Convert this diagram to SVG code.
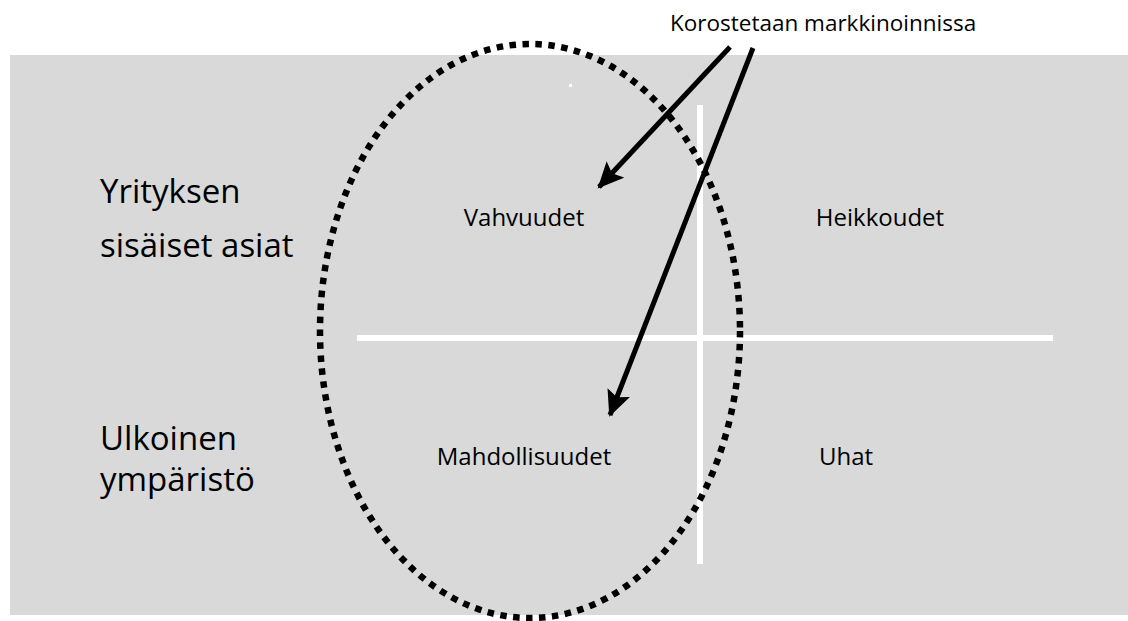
<svg xmlns="http://www.w3.org/2000/svg" width="1128" height="621" viewBox="0 0 1128 621">
  <style>
    .lbl { font-family: "Open Sans", "Liberation Sans", sans-serif; font-size: 24px; fill: #000; }
    .note { font-family: "Open Sans", "Liberation Sans", sans-serif; font-size: 22.5px; fill: #000; }
    .side { font-family: "Open Sans", "Liberation Sans", sans-serif; font-size: 33px; fill: #000; }
    .axis { fill: #ffffff; }
    .arrow { stroke: #000; stroke-width: 5; fill: none; marker-end: url(#head); }
  </style>
  <defs>
    <marker id="head" markerUnits="userSpaceOnUse" markerWidth="28" markerHeight="24" refX="24" refY="12" orient="auto">
      <path d="M0,0 L26,12 L0,24 L5,12 Z" fill="#000"/>
    </marker>
  </defs>

  <rect width="1128" height="621" fill="#ffffff"/>
  <!-- grey field -->
  <rect x="10" y="55" width="1118" height="560" fill="#d9d9d9"/>
  <rect x="569" y="84" width="3" height="3" fill="#ffffff"/>

  <!-- quadrant axes -->
  <g id="axes">
    <rect class="axis" x="357" y="335" width="696" height="6"/>
    <rect class="axis" x="697" y="105" width="6" height="459"/>
  </g>

  <!-- side headings -->
  <g id="internal">
    <text class="side" x="100" y="203">Yrityksen</text>
    <text class="side" x="100" y="257">sisäiset asiat</text>
  </g>
  <g id="external">
    <text class="side" x="100" y="450">Ulkoinen</text>
    <text class="side" x="100" y="491">ympäristö</text>
  </g>

  <!-- quadrants -->
  <g id="strengths"><text class="lbl" x="524" y="226" text-anchor="middle">Vahvuudet</text></g>
  <g id="weaknesses"><text class="lbl" x="880" y="226" text-anchor="middle">Heikkoudet</text></g>
  <g id="opportunities"><text class="lbl" x="524" y="465" text-anchor="middle">Mahdollisuudet</text></g>
  <g id="threats"><text class="lbl" x="846" y="465" text-anchor="middle">Uhat</text></g>

  <!-- highlighted area -->
  <g id="focus">
    <ellipse cx="530" cy="331" rx="210" ry="287" fill="none" stroke="#000" stroke-width="6.5" stroke-dasharray="6.5 6.5"/>
  </g>

  <g id="note"><text class="note" x="670" y="31">Korostetaan markkinoinnissa</text></g>

  <g id="connectors">
    <line class="arrow" x1="730" y1="47" x2="599" y2="187"/>
    <line class="arrow" x1="753" y1="48" x2="610" y2="415"/>
  </g>
</svg>
